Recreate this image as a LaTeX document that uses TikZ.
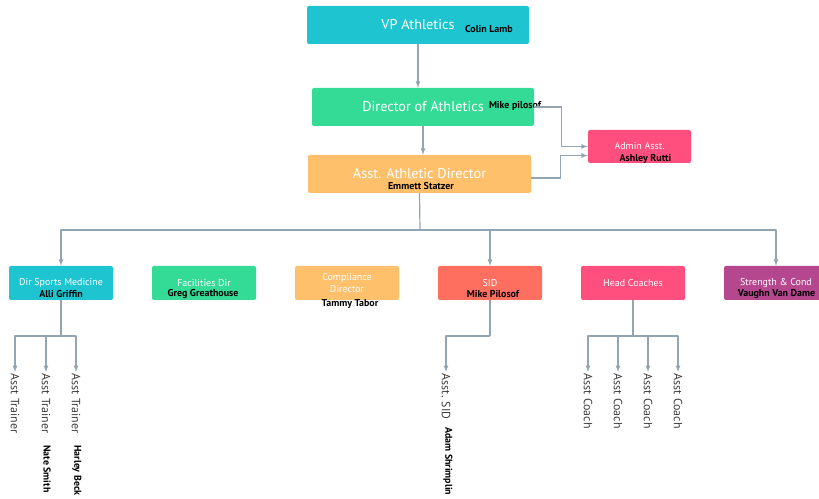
\documentclass[tikz,border=0pt]{standalone}
\usepackage{fontspec}
\setmainfont{PT Sans}
\definecolor{boxcyan}{HTML}{1EC5D0}
\definecolor{boxgreen}{HTML}{33DB96}
\definecolor{boxorange}{HTML}{FFC06B}
\definecolor{boxpink}{HTML}{FF4F7E}
\definecolor{boxsalmon}{HTML}{FF6F5F}
\definecolor{boxpurple}{HTML}{B5478E}
\definecolor{linkgray}{HTML}{93A5B3}
\definecolor{subgray}{HTML}{3C3C3C}
\begin{document}
\begin{tikzpicture}[>=latex,line join=bevel,
  box/.style={draw=none,rounded corners=2bp,text=white,inner sep=0pt},
  bigbox/.style={box,minimum width=222bp,minimum height=38bp,font=\fontsize{14.3}{16}\selectfont},
  smallbox/.style={box,minimum width=104bp,minimum height=34bp,font=\fontsize{10}{13}\selectfont,align=center},
  who/.style={draw=none,inner sep=0pt,text=black,font=\bfseries\fontsize{10}{12}\selectfont},
  sub/.style={draw=none,inner sep=1.5bp,rotate=-90,anchor=west,text=subgray,font=\fontsize{12}{14}\selectfont},
  subwho/.style={draw=none,inner sep=0pt,rotate=-90,anchor=west,text=black,font=\bfseries\fontsize{10}{12}\selectfont},
  conn/.style={draw=linkgray,line width=1.2bp},
]
\useasboundingbox (0bp,0bp) rectangle (819bp,499bp);
%%
\node (node_vp) at (418.0bp,474.0bp) [bigbox,fill=boxcyan] {VP Athletics};
  \node (node_vp_who) at (489.0bp,470.0bp) [who] {Colin Lamb};
  \node (node_dir) at (423.0bp,392.0bp) [bigbox,fill=boxgreen] {Director of Athletics};
  \node (node_dir_who) at (515.0bp,393.0bp) [who] {Mike pilosof};
  \node (node_aad) at (419.5bp,325.0bp) [bigbox,fill=boxorange,minimum width=223bp] {Asst. Athletic Director};
  \node (node_aad_who) at (421.0bp,313.0bp) [who] {Emmett Statzer};
  \node (node_admin) at (639.5bp,352.5bp) [box,fill=boxpink,minimum width=103bp,minimum height=33bp,font=\fontsize{10}{12}\selectfont] {Admin Asst.};
  \node (node_admin_who) at (645.5bp,340.0bp) [who] {Ashley Rutti};
%
  \node (node_dsm) at (61.0bp,216.0bp) [smallbox,fill=boxcyan] {Dir Sports Medicine};
  \node (node_dsm_who) at (61.0bp,205.0bp) [who] {Alli Griffin};
  \node (node_fac) at (204.0bp,216.0bp) [smallbox,fill=boxgreen] {Facilities Dir};
  \node (node_fac_who) at (203.0bp,205.0bp) [who] {Greg Greathouse};
  \node (node_comp) at (347.0bp,216.0bp) [smallbox,fill=boxorange] {Compliance\\Director};
  \node (node_comp_who) at (350.0bp,195.0bp) [who] {Tammy Tabor};
  \node (node_sid) at (490.0bp,216.0bp) [smallbox,fill=boxsalmon] {SID};
  \node (node_sid_who) at (493.0bp,205.0bp) [who] {Mike Pilosof};
  \node (node_hc) at (633.0bp,216.0bp) [smallbox,fill=boxpink] {Head Coaches};
  \node (node_sc) at (776.0bp,216.0bp) [smallbox,fill=boxpurple] {Strength \& Cond};
  \node (node_sc_who) at (776.5bp,205.0bp) [who] {Vaughn Van Dame};
%
  \node (node_at1) at (15.0bp,127.0bp) [sub] {Asst Trainer};
  \node (node_at2) at (46.0bp,127.0bp) [sub] {Asst Trainer};
  \node (node_at2_who) at (47.0bp,54.0bp) [subwho] {Nate Smith};
  \node (node_at3) at (76.0bp,127.0bp) [sub] {Asst Trainer};
  \node (node_at3_who) at (77.0bp,54.0bp) [subwho] {Harley Beck};
  \node (node_asid) at (446.0bp,127.0bp) [sub] {Asst. SID};
  \node (node_asid_who) at (448.0bp,72.0bp) [subwho] {Adam Shrimplin};
  \node (node_ac1) at (588.0bp,127.0bp) [sub] {Asst Coach};
  \node (node_ac2) at (618.0bp,127.0bp) [sub] {Asst Coach};
  \node (node_ac3) at (648.0bp,127.0bp) [sub] {Asst Coach};
  \node (node_ac4) at (678.0bp,127.0bp) [sub] {Asst Coach};
%
  \coordinate (bus_aad) at (420.0bp,269.0bp);
  \coordinate (bus_dsm) at (61.0bp,163.0bp);
  \coordinate (bus_sid) at (490.0bp,163.0bp);
  \coordinate (bus_hc) at (633.0bp,163.0bp);
%
  \draw [conn,->] (node_vp.south) -- (node_vp.south |- node_dir.north);
  \draw [conn,->] (node_dir.south) -- (node_dir.south |- node_aad.north);
  \draw [conn,->] (node_dir.east) -- ++(27bp,0bp) |- (node_admin.west);
  \draw [conn,->] ([yshift=-4bp]node_aad.east) -- ++(29bp,0bp) |- ([yshift=-9bp]node_admin.west);
  \draw [conn] (node_aad.south) -- (bus_aad);
  \draw [conn,->] (bus_aad) -| (node_dsm.north);
  \draw [conn,->] (bus_aad) -| (node_sid.north);
  \draw [conn,->] (bus_aad) -| (node_sc.north);
  \draw [conn] (node_dsm.south) -- (bus_dsm);
  \draw [conn,->] (bus_dsm) -| (node_at1.west);
  \draw [conn,->] (bus_dsm) -| (node_at2.west);
  \draw [conn,->] (bus_dsm) -| (node_at3.west);
  \draw [conn] (node_sid.south) -- (bus_sid);
  \draw [conn,->] (bus_sid) -| (node_asid.west);
  \draw [conn] (node_hc.south) -- (bus_hc);
  \draw [conn,->] (bus_hc) -| (node_ac1.west);
  \draw [conn,->] (bus_hc) -| (node_ac2.west);
  \draw [conn,->] (bus_hc) -| (node_ac3.west);
  \draw [conn,->] (bus_hc) -| (node_ac4.west);
%
\end{tikzpicture}
\end{document}
